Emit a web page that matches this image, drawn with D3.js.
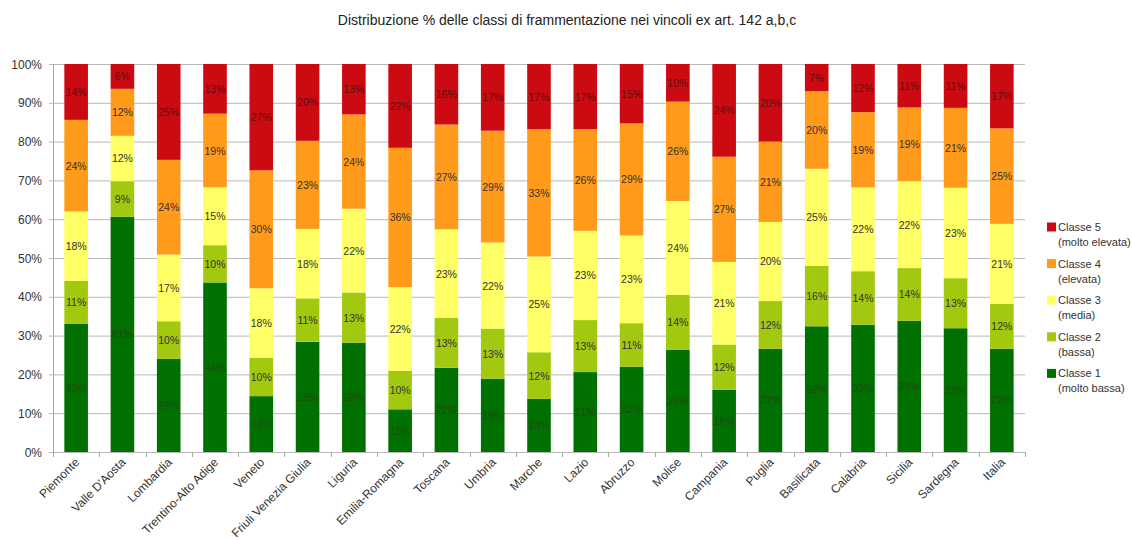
<!DOCTYPE html>
<html><head><meta charset="utf-8">
<script src="https://cdn.jsdelivr.net/npm/d3@7"></script>
<style>body{margin:0;background:#fff}svg{display:block}text{font-family:"Liberation Sans",Arial,sans-serif}</style>
</head><body><svg id="c" width="1132" height="540"></svg>
<script>
const title = "Distribuzione % delle classi di frammentazione nei vincoli ex art. 142 a,b,c";
const regions = ["Piemonte","Valle D'Aosta","Lombardia","Trentino-Alto Adige","Veneto","Friuli Venezia Giulia","Liguria","Emilia-Romagna","Toscana","Umbria","Marche","Lazio","Abruzzo","Molise","Campania","Puglia","Basilicata","Calabria","Sicilia","Sardegna","Italia"];
const classe1 = [33.0,60.6,24.0,43.7,14.4,28.4,28.2,11.0,21.7,18.9,13.7,20.6,22.0,26.3,16.0,26.6,32.4,32.8,33.8,31.9,26.6];
const classe2 = [11.1,9.2,9.7,9.6,9.9,11.2,12.9,9.9,12.9,12.9,12.0,13.4,11.2,14.2,11.7,12.3,15.6,13.8,13.6,12.9,11.6];
const classe3 = [17.9,11.7,17.2,14.9,17.9,17.9,21.6,21.6,22.8,22.2,24.7,23.0,22.6,24.2,21.3,20.4,25.0,21.6,22.4,23.3,20.6];
const classe4 = [23.6,12.1,24.4,19.0,30.4,22.7,24.3,35.9,27.0,28.8,32.8,26.2,28.9,25.6,27.1,20.7,20.0,19.4,19.0,20.6,24.6];
const classe5 = [14.4,6.4,24.7,12.8,27.4,19.8,13.0,21.6,15.6,17.2,16.8,16.8,15.3,9.7,23.9,20.0,7.0,12.4,11.2,11.3,16.6];
const seriesNames = [["Classe 1","(molto bassa)"],["Classe 2","(bassa)"],["Classe 3","(media)"],["Classe 4","(elevata)"],["Classe 5","(molto elevata)"]];
const colors = ["#007000","#a2c90f","#ffff66","#ff9a1a","#cc0a12"];
const yTicks = [0,10,20,30,40,50,60,70,80,90,100];

const series = [classe1,classe2,classe3,classe4,classe5];
const svg = d3.select("#c");
const m = {l:53, r:1025, t:64, b:452};
const x = d3.scaleBand().domain(regions).range([m.l, m.r]).paddingInner(0.49).paddingOuter(0.245);
const xb = d3.scaleBand().domain(regions).range([m.l, m.r]);
const y = d3.scaleLinear().domain([0,100]).range([m.b, m.t]);

// title
svg.append("text").attr("x",567).attr("y",25).attr("text-anchor","middle")
  .attr("font-size",14).attr("fill","#222").text(title);

// grid
svg.append("g").selectAll("line").data(yTicks).join("line")
  .attr("x1",m.l-4).attr("x2",m.r).attr("y1",d=>y(d)+0.5).attr("y2",d=>y(d)+0.5)
  .attr("stroke","#b8b8b8").attr("stroke-width",1);
svg.append("line").attr("x1",m.l+0.5).attr("x2",m.l+0.5).attr("y1",m.t).attr("y2",m.b)
  .attr("stroke","#a8a8a8");
// y labels
svg.append("g").selectAll("text").data(yTicks).join("text")
  .attr("x",42).attr("y",d=>y(d)+4.5).attr("text-anchor","end").attr("font-size",12)
  .attr("fill","#333").text(d=>d+"%");
// x ticks
const bounds = regions.map(r=>xb(r)).concat([m.r]);
svg.append("g").selectAll("line").data(bounds).join("line")
  .attr("x1",d=>Math.round(d)+0.5).attr("x2",d=>Math.round(d)+0.5).attr("y1",m.b).attr("y2",m.b+5)
  .attr("stroke","#a8a8a8");

// bars
const stacked = regions.map((r,i)=>{let c=0;return series.map((s,k)=>{const v=s[i];const o={r,k,v,y0:c,y1:c+v};c+=v;return o;});}).flat();
svg.append("g").selectAll("rect").data(stacked).join("rect")
  .attr("x",d=>x(d.r)).attr("width",x.bandwidth())
  .attr("y",d=>y(d.y1)).attr("height",d=>y(d.y0)-y(d.y1))
  .attr("fill",d=>colors[d.k]);
svg.append("g").selectAll("text").data(stacked).join("text")
  .attr("x",d=>x(d.r)+x.bandwidth()/2).attr("y",d=>y((d.y0+d.y1)/2)+4)
  .attr("text-anchor","middle").attr("font-size",10.5)
  .attr("fill",d=>d.k===0?"#1f4a10":(d.k===4?"#5a1010":"#333"))
  .text(d=>Math.round(d.v)+"%");

// x labels
svg.append("g").selectAll("text").data(regions).join("text")
  .attr("transform",d=>`translate(${x(d)+x.bandwidth()/2+4},${m.b+11}) rotate(-45)`)
  .attr("text-anchor","end").attr("font-size",12).attr("fill","#333").text(d=>d);

// legend
const lg = svg.append("g");
const order = [4,3,2,1,0];
order.forEach((k,i)=>{
  const yy = 227 + i*36.6;
  lg.append("rect").attr("x",1047).attr("y",yy-4.5).attr("width",9).attr("height",9).attr("fill",colors[k]);
  lg.append("text").attr("x",1058).attr("y",yy+4).attr("font-size",11).attr("fill","#333").text(seriesNames[k][0]);
  lg.append("text").attr("x",1058).attr("y",yy+19).attr("font-size",11).attr("fill","#333").text(seriesNames[k][1]);
});
</script></body></html>
